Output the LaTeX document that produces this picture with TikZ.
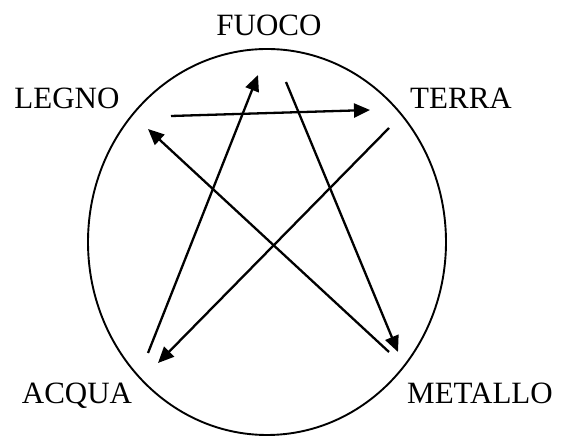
\documentclass[tikz,border=0pt]{standalone}
\usepackage{fontspec}
\setmainfont{Liberation Serif}
\usepackage{tikz}
\usetikzlibrary{arrows.meta,positioning}

\tikzset{
  elem/.style={font=\fontsize{31}{36}\selectfont, inner sep=0pt, anchor=base},
  cycle/.style={-{Triangle[length=16pt,width=14pt]}, line width=2.3pt}
}

\begin{document}
\begin{tikzpicture}[x=1pt,y=1pt]
  \useasboundingbox (0,0) rectangle (566,436);

  % Outer ring
  \draw[line width=1.9pt] (267,194) ellipse (179 and 193);

  % Element labels
  \node[elem] (fuoco)   at (269,400) {FUOCO};
  \node[elem] (legno)   at (67,327)  {LEGNO};
  \node[elem] (terra)   at (461,327) {TERRA};
  \node[elem] (acqua)   at (77,32)   {ACQUA};
  \node[elem] (metallo) at (480,32)  {METALLO};

  % Arrow ends
  \coordinate (legno-out)   at (171,320);
  \coordinate (legno-in)    at (148,307);
  \coordinate (terra-in)    at (370,326);
  \coordinate (terra-out)   at (389,308);
  \coordinate (fuoco-in)    at (258,361);
  \coordinate (fuoco-out)   at (286,354);
  \coordinate (acqua-out)   at (148,83);
  \coordinate (acqua-in)    at (158,73);
  \coordinate (metallo-in)  at (398,84);
  \coordinate (metallo-out) at (389,84);

  % Cycle arrows
  \draw[cycle] (legno-out) -- (terra-in);
  \draw[cycle] (terra-out) -- (acqua-in);
  \draw[cycle] (acqua-out) -- (fuoco-in);
  \draw[cycle] (fuoco-out) -- (metallo-in);
  \draw[cycle] (metallo-out) -- (legno-in);
\end{tikzpicture}
\end{document}
